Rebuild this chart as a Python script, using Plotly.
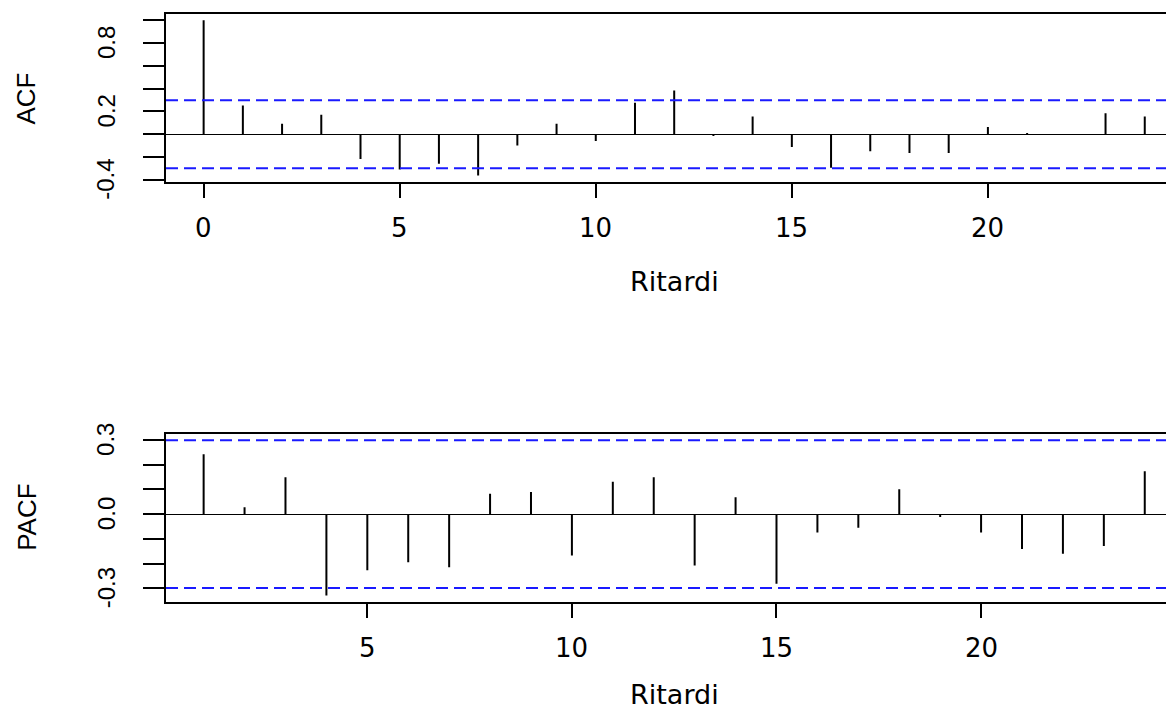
import glob
import plotly.graph_objects as go

# ---- data ----
acf_lags = list(range(0, 25))
acf_vals = [1.0, 0.252, 0.092, 0.170, -0.217, -0.310, -0.258, -0.362, -0.100,
            0.092, -0.059, 0.275, 0.383, -0.015, 0.156, -0.112, -0.295, -0.150,
            -0.164, -0.164, 0.063, 0.010, -0.004, 0.185, 0.156]
pacf_lags = list(range(1, 25))
pacf_vals = [0.242, 0.028, 0.149, -0.329, -0.227, -0.195, -0.215, 0.082, 0.089,
             -0.167, 0.131, 0.149, -0.208, 0.068, -0.282, -0.074, -0.055, 0.101,
             -0.012, -0.074, -0.141, -0.160, -0.129, 0.173]
conf_limit = 0.2989

acf_xticks = [0, 5, 10, 15, 20]
pacf_xticks = [5, 10, 15, 20]
acf_yticks = [-0.4, -0.2, 0.0, 0.2, 0.4, 0.6, 0.8, 1.0]
acf_ylabels = {-0.4: "-0.4", 0.2: "0.2", 0.8: "0.8"}
pacf_yticks = [-0.3, -0.2, -0.1, 0.0, 0.1, 0.2, 0.3]
pacf_ylabels = {-0.3: "-0.3", 0.0: "0.0", 0.3: "0.3"}

x_title = "Ritardi"
acf_title = "ACF"
pacf_title = "PACF"

# ---- layout helpers ----
OFF = 8                      # default body margin of the html page
W, H = 1174 - OFF, 711 - OFF
HFONT = "DejaVu Sans, Liberation Sans, Arial, sans-serif"
narrow_files = []
for d in ("/usr/share/fonts", "/usr/local/share/fonts", "/root/.fonts",
          "/root/.local/share/fonts"):
    narrow_files += glob.glob(d + "/**/*iberation*ans*arrow*", recursive=True)
if narrow_files:
    VFONT = "Liberation Sans Narrow"
    v_tick_size, v_title_size = 27, 29
else:
    VFONT = "Liberation Sans, Arial, sans-serif"
    v_tick_size, v_title_size = 24, 26

PLOT_L, PLOT_R = 166, 1182.4   # page px of the (partly cut) plot region
visible_frac = (1174 - PLOT_L) / (PLOT_R - PLOT_L)


def px_x(p):
    return (p - OFF) / W


def px_y(p):
    return 1 - (p - OFF) / H


def r_range(vals, extra=()):
    lo = min(list(vals) + list(extra))
    hi = max(list(vals) + list(extra))
    d = (hi - lo) * 0.04
    return [lo - d, hi + d]


def x_range(lags):
    lo, hi = r_range(lags)
    return [lo, lo + (hi - lo) * visible_frac]


def stems(lags, vals):
    xs, ys = [], []
    for l, v in zip(lags, vals):
        xs += [l, l, None]
        ys += [0, v, None]
    return xs, ys


fig = go.Figure()

xs, ys = stems(acf_lags, acf_vals)
fig.add_trace(go.Scatter(x=xs, y=ys, mode="lines", line=dict(color="black", width=2),
                         xaxis="x", yaxis="y", showlegend=False, hoverinfo="skip"))
xs, ys = stems(pacf_lags, pacf_vals)
fig.add_trace(go.Scatter(x=xs, y=ys, mode="lines", line=dict(color="black", width=2),
                         xaxis="x2", yaxis="y2", showlegend=False, hoverinfo="skip"))

for xr, yr in (("x", "y"), ("x2", "y2")):
    for c in (conf_limit, -conf_limit):
        fig.add_shape(type="line", xref=f"{xr} domain", yref=yr, x0=0, x1=1, y0=c, y1=c,
                      line=dict(color="#1a1aff", width=2, dash="12px,6px"))

xdom = [px_x(PLOT_L), 1]
common = dict(showgrid=False, showline=True, linecolor="black", linewidth=1.8,
              ticks="outside", tickcolor="black", tickwidth=1.8, showticklabels=False)

fig.update_layout(
    width=W, height=H, margin=dict(l=0, r=0, t=0, b=0),
    plot_bgcolor="white", paper_bgcolor="white",
    xaxis=dict(domain=xdom, anchor="y", range=x_range(acf_lags), tickvals=acf_xticks,
               ticklen=14, mirror=True, zeroline=False, **common),
    yaxis=dict(domain=[px_y(181.7), px_y(14)], anchor="x",
               range=r_range(acf_vals, (conf_limit, -conf_limit)),
               tickvals=acf_yticks, ticklen=21,
               zeroline=True, zerolinecolor="black", zerolinewidth=1.4, **common),
    xaxis2=dict(domain=xdom, anchor="y2", range=x_range(pacf_lags), tickvals=pacf_xticks,
                ticklen=14, mirror=True, zeroline=False, **common),
    yaxis2=dict(domain=[px_y(601.7), px_y(434)], anchor="x2",
                range=r_range(pacf_vals, (conf_limit, -conf_limit)),
                tickvals=pacf_yticks, ticklen=21,
                zeroline=True, zerolinecolor="black", zerolinewidth=1.4, **common),
)

xtick_font = dict(family=HFONT, size=26, color="black")
xtitle_font = dict(family=HFONT, size=27, color="black")
ytick_font = dict(family=VFONT, size=v_tick_size, color="black")
ytitle_font = dict(family=VFONT, size=v_title_size, color="black")


def label(**kw):
    fig.add_annotation(showarrow=False, xanchor="center", yanchor="middle", **kw)


# tick labels (placed on the axes' own scales)
for t in acf_xticks:
    label(text=str(t), xref="x", x=t, yref="paper", y=px_y(227.5), font=xtick_font)
for t in pacf_xticks:
    label(text=str(t), xref="x2", x=t, yref="paper", y=px_y(647.5), font=xtick_font)
for v, s in acf_ylabels.items():
    label(text=s, yref="y", y=v, xref="paper", x=px_x(106), textangle=-90, font=ytick_font)
for v, s in pacf_ylabels.items():
    label(text=s, yref="y2", y=v, xref="paper", x=px_x(106), textangle=-90, font=ytick_font)

# axis titles
xc = px_x((PLOT_L + PLOT_R) / 2)
label(text=x_title, xref="paper", x=xc, yref="paper", y=px_y(281), font=xtitle_font)
label(text=x_title, xref="paper", x=xc, yref="paper", y=px_y(694), font=xtitle_font)
label(text=acf_title, xref="paper", x=px_x(26.3), yref="paper", y=px_y(98.3),
      textangle=-90, font=ytitle_font)
label(text=pacf_title, xref="paper", x=px_x(26.3), yref="paper", y=px_y(517.5),
      textangle=-90, font=ytitle_font)

fig.write_html("out.html")
